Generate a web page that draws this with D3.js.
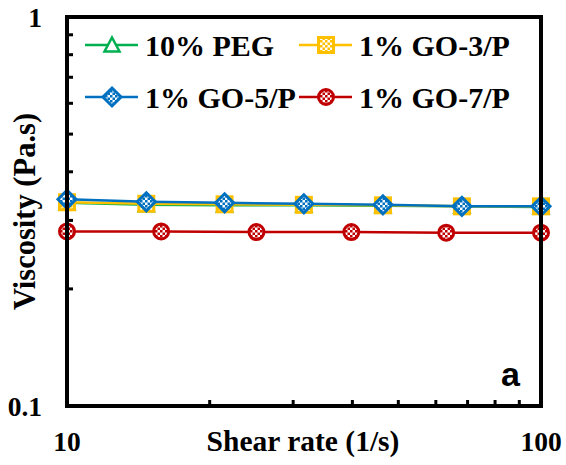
<!DOCTYPE html>
<html>
<head>
<meta charset="utf-8">
<script src="https://cdn.jsdelivr.net/npm/d3@7/dist/d3.min.js"></script>
<style>
  html, body { margin: 0; padding: 0; background: #fff; }
  svg { display: block; }
</style>
</head>
<body>
<svg id="chart" width="566" height="465"></svg>
<script>
// Shear rates (1/s)
const shearA = [10, 14.7, 21.5, 31.6, 46.4, 68.1, 100];
const shearB = [10, 15.8, 25.1, 39.8, 63.1, 100];

// Viscosity (Pa.s)
const peg10   = [0.333, 0.329, 0.328, 0.328, 0.327, 0.326, 0.325];
const go3p    = [0.334, 0.331, 0.330, 0.329, 0.328, 0.326, 0.326];
const go5p    = [0.340, 0.335, 0.333, 0.331, 0.329, 0.326, 0.326];
const go7p    = [0.281, 0.281, 0.280, 0.280, 0.279, 0.279];

const seriesNames = ["10% PEG", "1% GO-3/P", "1% GO-5/P", "1% GO-7/P"];
const xTickLabels = ["10", "100"];
const yTickLabels = ["0.1", "1"];

const series = [
  { name: seriesNames[0], x: shearA, y: peg10, color: "#00B050", shape: "triangle" },
  { name: seriesNames[1], x: shearA, y: go3p,  color: "#FFC000", shape: "square" },
  { name: seriesNames[2], x: shearA, y: go5p,  color: "#0070C0", shape: "diamond" },
  { name: seriesNames[3], x: shearB, y: go7p,  color: "#C00000", shape: "circle" }
];

const svg = d3.select("#chart");
const L = 67, R = 541, T = 17, B = 406;
const x = d3.scaleLog().domain([10, 100]).range([L, R]);
const y = d3.scaleLog().domain([0.1, 1]).range([B, T]);

const serif = "'Liberation Serif', 'Times New Roman', serif";

// checker fills for the markers
const defs = svg.append("defs");
series.forEach((s, i) => {
  const p = defs.append("pattern")
    .attr("id", "chk" + i)
    .attr("patternUnits", "userSpaceOnUse")
    .attr("width", 5).attr("height", 5);
  p.append("rect").attr("width", 5).attr("height", 5).attr("fill", "#fff");
  p.append("rect").attr("width", 2.5).attr("height", 2.5).attr("fill", s.color);
  p.append("rect").attr("x", 2.5).attr("y", 2.5).attr("width", 2.5).attr("height", 2.5).attr("fill", s.color);
});

function drawMarker(g, s, i, cx, cy) {
  if (s.shape === "triangle") {
    g.append("path")
      .attr("d", `M${cx},${cy - 7.5} L${cx + 7.5},${cy + 6.5} L${cx - 7.5},${cy + 6.5} Z`)
      .attr("fill", "#fff").attr("stroke", s.color).attr("stroke-width", 2.5);
  } else if (s.shape === "square") {
    g.append("rect")
      .attr("x", cx - 7.5).attr("y", cy - 7.5).attr("width", 15).attr("height", 15)
      .attr("fill", `url(#chk${i})`).attr("stroke", s.color).attr("stroke-width", 3);
  } else if (s.shape === "diamond") {
    g.append("path")
      .attr("d", `M${cx},${cy - 9} L${cx + 9},${cy} L${cx},${cy + 9} L${cx - 9},${cy} Z`)
      .attr("fill", `url(#chk${i})`).attr("stroke", s.color).attr("stroke-width", 3);
  } else {
    g.append("circle")
      .attr("cx", cx).attr("cy", cy).attr("r", 7.5)
      .attr("fill", `url(#chk${i})`).attr("stroke", s.color).attr("stroke-width", 3);
  }
}

// minor ticks, drawn inward
const xMinor = d3.range(2, 10).map(d => d * 10);
const yMinor = d3.range(2, 10).map(d => d / 10);
const axisG = svg.append("g");
axisG.selectAll("line.xm").data(xMinor).enter().append("line")
  .attr("x1", d => x(d)).attr("x2", d => x(d))
  .attr("y1", B).attr("y2", B - 6)
  .attr("stroke", "#000").attr("stroke-width", 3);
axisG.selectAll("line.ym").data(yMinor).enter().append("line")
  .attr("y1", d => y(d)).attr("y2", d => y(d))
  .attr("x1", L).attr("x2", L + 6)
  .attr("stroke", "#000").attr("stroke-width", 3);

// data lines and markers
const line = d3.line();
series.forEach((s, i) => {
  const pts = s.x.map((v, k) => [x(v), y(s.y[k])]);
  svg.append("path").attr("d", line(pts))
    .attr("fill", "none").attr("stroke", s.color).attr("stroke-width", 2.5);
});
series.forEach((s, i) => {
  const g = svg.append("g");
  s.x.forEach((v, k) => drawMarker(g, s, i, x(v), y(s.y[k])));
});

// plot frame
svg.append("rect")
  .attr("x", L).attr("y", T).attr("width", R - L).attr("height", B - T)
  .attr("fill", "none").attr("stroke", "#000").attr("stroke-width", 4);

// tick labels
const tickFont = 27.5;
[10, 100].forEach((v, k) => {
  svg.append("text").attr("x", x(v)).attr("y", 451)
    .attr("text-anchor", "middle").attr("font-family", serif)
    .attr("font-weight", "bold").attr("font-size", tickFont)
    .text(xTickLabels[k]);
});
[0.1, 1].forEach((v, k) => {
  svg.append("text").attr("x", 42).attr("y", y(v)).attr("dy", "0.35em")
    .attr("text-anchor", "end").attr("font-family", serif)
    .attr("font-weight", "bold").attr("font-size", tickFont)
    .text(yTickLabels[k]);
});

// axis titles
svg.append("text").attr("x", (L + R) / 2 - 1).attr("y", 451)
  .attr("text-anchor", "middle").attr("font-family", serif)
  .attr("font-weight", "bold").attr("font-size", 29.5)
  .text("Shear rate (1/s)");
svg.append("text")
  .attr("transform", `translate(35,${(T + B) / 2}) rotate(-90)`)
  .attr("text-anchor", "middle").attr("font-family", serif)
  .attr("font-weight", "bold").attr("font-size", 30.5)
  .text("Viscosity (Pa.s)");

// panel letter
svg.append("text").attr("x", 520).attr("y", 386)
  .attr("text-anchor", "end").attr("font-family", "'Liberation Sans', Arial, sans-serif")
  .attr("font-weight", "bold").attr("font-size", 34)
  .text("a");

// legend
const legendPos = [[85, 45], [299, 45], [85, 97], [299, 97]];
series.forEach((s, i) => {
  const [lx, ly] = legendPos[i];
  const g = svg.append("g");
  g.append("line").attr("x1", lx).attr("x2", lx + 53).attr("y1", ly).attr("y2", ly)
    .attr("stroke", s.color).attr("stroke-width", 2.5);
  drawMarker(g, s, i, lx + 27, ly);
  g.append("text").attr("x", lx + 60).attr("y", ly).attr("dy", "0.35em")
    .attr("font-family", serif).attr("font-weight", "bold").attr("font-size", 30)
    .text(s.name);
});
</script>
</body>
</html>
